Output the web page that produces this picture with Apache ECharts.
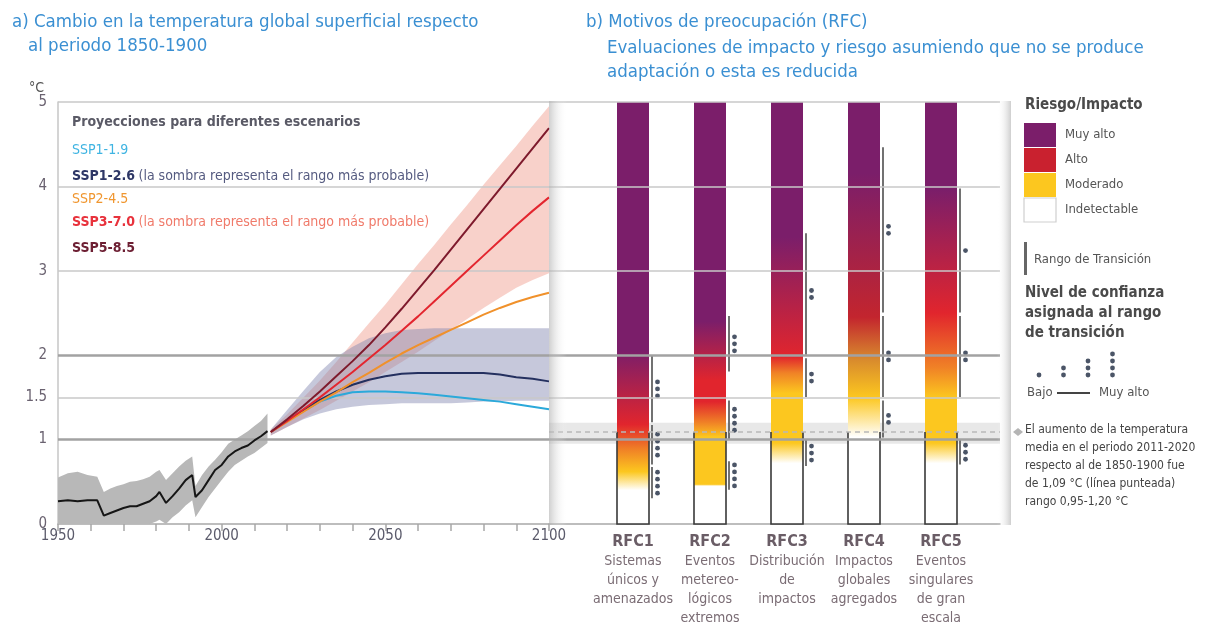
<!DOCTYPE html>
<html><head><meta charset="utf-8">
<script src="https://cdn.jsdelivr.net/npm/echarts/dist/echarts.min.js"></script>
<style>html,body{margin:0;padding:0;background:#fff}#c{width:1213px;height:625px}</style>
</head><body><div id="c"></div>
<script>
// ---------- DATA ----------
const yTickValues = [0, 1, 1.5, 2, 3, 4, 5];
const yMajorLines = [1, 2];
const yMinorLines = [1.5, 3, 4, 5];
const xTickLabels = [1950, 2000, 2050, 2100];

const histYears = [1950,1953,1956,1959,1962,1964,1966,1968,1970,1972,1974,1976,1978,1980,1981,1983,1985,1987,1989,1991,1992,1994,1996,1998,2000,2002,2004,2006,2008,2010,2012,2014];
const histMean  = [0.27,0.28,0.27,0.28,0.28,0.10,0.13,0.16,0.19,0.21,0.21,0.24,0.27,0.33,0.38,0.25,0.33,0.42,0.52,0.58,0.32,0.40,0.52,0.64,0.70,0.80,0.86,0.90,0.93,0.99,1.04,1.10];
const histHigh  = [0.55,0.60,0.62,0.58,0.56,0.38,0.42,0.45,0.47,0.50,0.51,0.53,0.56,0.62,0.64,0.52,0.60,0.68,0.75,0.80,0.45,0.58,0.68,0.76,0.85,0.95,1.00,1.05,1.10,1.16,1.22,1.31];
const histLow   = [0,0,0,0,0,0,0,0,0,0,0,0,0,0.03,0.05,0,0.08,0.14,0.22,0.28,0.08,0.20,0.32,0.42,0.52,0.62,0.70,0.75,0.80,0.84,0.90,0.96];

const projYears = [2015,2020,2025,2030,2035,2040,2045,2050,2055,2060,2065,2070,2075,2080,2085,2090,2095,2100];
const ssp119 = [1.09,1.22,1.34,1.45,1.52,1.56,1.57,1.57,1.56,1.55,1.53,1.51,1.49,1.47,1.45,1.42,1.39,1.36];
const ssp126 = [1.09,1.22,1.35,1.47,1.57,1.65,1.71,1.75,1.78,1.79,1.79,1.79,1.79,1.79,1.77,1.74,1.72,1.69];
const ssp245 = [1.09,1.21,1.33,1.45,1.56,1.68,1.79,1.91,2.02,2.12,2.21,2.30,2.39,2.48,2.56,2.63,2.69,2.74];
const ssp370 = [1.09,1.22,1.36,1.50,1.65,1.80,1.96,2.12,2.29,2.46,2.64,2.82,3.00,3.18,3.36,3.54,3.71,3.87];
const ssp585 = [1.09,1.24,1.40,1.57,1.75,1.93,2.12,2.33,2.55,2.78,3.01,3.25,3.49,3.73,3.97,4.21,4.45,4.69];
const ssp126Low  = [1.05,1.15,1.24,1.31,1.36,1.39,1.41,1.42,1.43,1.43,1.43,1.43,1.44,1.45,1.45,1.46,1.46,1.46];
const ssp126High = [1.12,1.35,1.58,1.80,1.98,2.10,2.20,2.26,2.30,2.31,2.32,2.32,2.32,2.32,2.32,2.32,2.32,2.32];
const ssp370Low  = [1.05,1.15,1.25,1.35,1.46,1.57,1.68,1.80,1.92,2.04,2.17,2.30,2.43,2.56,2.68,2.80,2.89,2.97];
const ssp370High = [1.12,1.30,1.50,1.70,1.92,2.15,2.38,2.60,2.84,3.08,3.31,3.55,3.78,4.02,4.25,4.48,4.72,4.95];

const rfcCategories = ['RFC1','RFC2','RFC3','RFC4','RFC5'];
const rfcDescriptions = [
  ['Sistemas','únicos y','amenazados'],
  ['Eventos','metereo-','lógicos','extremos'],
  ['Distribución','de','impactos'],
  ['Impactos','globales','agregados'],
  ['Eventos','singulares','de gran','escala']
];
// risk level colour stops per RFC: [°C, level]
const rfcRiskStops = [
  [[0.40,'w'],[0.62,'y'],[0.88,'o'],[1.18,'r'],[2.05,'p']],
  [[0.45,'w'],[0.47,'y'],[1.03,'y'],[1.20,'o'],[1.45,'r'],[1.70,'r'],[2.40,'p']],
  [[0.72,'w'],[0.96,'y'],[1.55,'y'],[1.79,'o'],[1.98,'r'],[3.40,'p']],
  [[1.03,'w'],[1.50,'y'],[1.95,'b'],[2.45,'d'],[4.15,'p']],
  [[0.72,'w'],[0.96,'y'],[1.50,'y'],[1.85,'o'],[2.50,'r'],[3.96,'p']]
];
// transition ranges: [rfc index, low °C, high °C, confidence dots]
const rfcTransitions = [
  [0,1.20,2.00,3],[0,0.70,1.18,4],[0,0.30,0.68,4],
  [1,1.80,2.47,3],[1,1.00,1.47,4],[1,0.40,0.75,4],
  [2,2.00,3.45,2],[2,1.50,1.97,2],[2,0.68,1.00,3],
  [3,2.50,4.47,2],[3,1.50,2.47,2],[3,1.02,1.47,2],
  [4,2.50,3.98,1],[4,1.50,2.47,2],[4,0.70,1.00,3]
];
const observedWarming = 1.09;
const observedRange = [0.95, 1.20];

const riskLegend = [['Muy alto','p'],['Alto','r2'],['Moderado','y'],['Indetectable','w']];
const confidenceDots = [1,2,3,4];

// ---------- STYLE ----------
const FONT = "'Liberation Sans Narrow','DejaVu Sans Condensed','Roboto Condensed',Roboto,sans-serif";
const TITLE = '#3a8fd2';
const riskColors = {w:'#ffffff', y:'#fcc71f', o:'#f08226', r:'#e1252d', r2:'#c9212f', p:'#7b1e6a', b:'#d88a2d', d:'#c3252e'};
const C = {s119:'#2ba9da', s126:'#24305f', s245:'#f0912b', s370:'#e3262f', s585:'#7e1a2c'};

const chart = echarts.init(document.getElementById('c'), null, {renderer:'canvas'});

function pairs(xs, ys){ return xs.map((x,i)=>[x, ys[i]]); }

function bandSeries(xs, lo, hi, color, z){
  return {type:'custom', xAxisIndex:0, yAxisIndex:0, silent:true, z:z, clip:true,
    data: xs.map((x,i)=>[x, lo[i], hi[i]]),
    encode:{x:0, y:[1,2]},
    renderItem:(params, api)=>{
      if(params.dataIndex !== 0) return null;
      const upper = xs.map((x,i)=>api.coord([x, hi[i]]));
      const lower = xs.map((x,i)=>api.coord([x, lo[i]])).reverse();
      return {type:'polygon', shape:{points:upper.concat(lower)}, style:{fill:color}};
    }};
}
function lineSeries(name, xs, ys, color, w){
  return {name, type:'line', xAxisIndex:0, yAxisIndex:0, data:pairs(xs,ys), symbol:'none', lineStyle:{color, width:w||2}, silent:true, z:5};
}
function gridMarkLines(){
  return [
    ...yMinorLines.map(v=>({yAxis:v, lineStyle:{color:'#c8c8c8', width:1.5, type:'solid'}})),
    ...yMajorLines.map(v=>({yAxis:v, lineStyle:{color:'#a2a2a2', width:2.5, type:'solid'}}))
  ];
}

function renderBar(params, api){
  const i = api.value(0);
  const bottom = api.coord([i, 0]);
  const top = api.coord([i, 5]);
  const obs = api.coord([i, observedWarming]);
  const w = 32;
  const x0 = bottom[0]-w/2, x1 = bottom[0]+w/2;
  const stops = rfcRiskStops[i].map(s=>({offset:s[0]/5, color:riskColors[s[1]]}));
  return {type:'group', children:[
    {type:'rect', shape:{x:x0, y:top[1], width:w, height:bottom[1]-top[1]}, style:{fill:new echarts.graphic.LinearGradient(0,1,0,0,stops)}},
    {type:'polyline', shape:{points:[[x0,obs[1]],[x0,bottom[1]],[x1,bottom[1]],[x1,obs[1]]]}, style:{stroke:'#3a3a3a', lineWidth:1.6, fill:null}}
  ]};
}
function renderTransition(params, api){
  const i = api.value(0), lo = api.value(1), hi = api.value(2), n = api.value(3);
  const pLo = api.coord([i, lo]), pHi = api.coord([i, hi]);
  const x = pLo[0] + 19;
  const children = [{type:'line', shape:{x1:x, y1:pHi[1]+0.5, x2:x, y2:pLo[1]-0.5}, style:{stroke:'#626262', lineWidth:1.8}}];
  const mid = (pLo[1]+pHi[1])/2, gap = 7;
  for(let k=0;k<n;k++){
    children.push({type:'circle', shape:{cx:x+5.5, cy:mid+(k-(n-1)/2)*gap, r:2.4}, style:{fill:'#4b5567'}});
  }
  return {type:'group', children};
}

const option = {
  animation:false,
  textStyle:{fontFamily:FONT},
  grid:[
    {left:58, top:102, width:491, height:422, outerBoundsMode:'none', containLabel:false},
    {left:549, top:102, width:451, height:422, outerBoundsMode:'none', containLabel:false},
    {left:594.5, top:102, width:385, height:422, outerBoundsMode:'none', containLabel:false}
  ],
  xAxis:[
    {gridIndex:0, type:'value', min:1950, max:2100, interval:10,
      axisLine:{lineStyle:{color:'#a8a8a8', width:1.5}},
      axisTick:{length:7, lineStyle:{color:'#a8a8a8', width:1.5}},
      axisLabel:{formatter:v=>xTickLabels.indexOf(v)>=0?String(v):'', color:'#5b5b6b', fontSize:15, margin:5, fontFamily:FONT},
      splitLine:{show:false}},
    {gridIndex:1, type:'value', min:0, max:1,
      axisLine:{lineStyle:{color:'#a8a8a8', width:1.5}}, axisTick:{show:false}, axisLabel:{show:false}, splitLine:{show:false}},
    {gridIndex:2, type:'category', data:rfcCategories, axisLine:{show:false}, axisTick:{show:false},
      axisLabel:{interval:0, margin:8, fontFamily:FONT,
        formatter:(v,i)=>'{t|'+v+'}\n'+rfcDescriptions[i].map(s=>'{s|'+s+'}').join('\n'),
        rich:{t:{fontSize:16, color:'#6a5d66', fontWeight:'bold', lineHeight:20, fontFamily:FONT},
              s:{fontSize:14, color:'#7a6c74', lineHeight:19, fontFamily:FONT}}}}
  ],
  yAxis:[
    {gridIndex:0, type:'value', min:0, max:5, interval:0.5,
      axisLine:{show:true, lineStyle:{color:'#c6c6c6', width:1.5}}, axisTick:{show:false},
      axisLabel:{formatter:v=>yTickValues.indexOf(v)>=0?String(v):'', color:'#6a6270', fontSize:15, margin:11, fontFamily:FONT},
      splitLine:{show:false}},
    {gridIndex:1, type:'value', min:0, max:5, show:false},
    {gridIndex:2, type:'value', min:0, max:5, show:false}
  ],
  series:[
    {type:'line', xAxisIndex:0, yAxisIndex:0, data:[], silent:true, z:1,
      markLine:{silent:true, symbol:'none', label:{show:false}, animation:false, data:gridMarkLines()}},
    {type:'line', xAxisIndex:1, yAxisIndex:1, data:[], silent:true, z:1,
      markArea:{silent:true, itemStyle:{color:'rgba(205,205,205,0.45)'}, data:[[{yAxis:observedRange[0]},{yAxis:observedRange[1]}]]},
      markLine:{silent:true, symbol:'none', label:{show:false}, animation:false,
        data:[...gridMarkLines(), {yAxis:observedWarming, lineStyle:{color:'#b8b8b8', width:1.5, type:[5,4]}}]}},
    bandSeries(histYears, histLow, histHigh, '#b8b8b8', 2),
    bandSeries(projYears, ssp370Low, ssp370High, 'rgba(236,135,115,0.38)', 2),
    bandSeries(projYears, ssp126Low, ssp126High, 'rgba(130,136,176,0.46)', 2),
    lineSeries('hist', histYears, histMean, '#161616', 2),
    lineSeries('SSP1-1.9', projYears, ssp119, C.s119),
    lineSeries('SSP1-2.6', projYears, ssp126, C.s126),
    lineSeries('SSP2-4.5', projYears, ssp245, C.s245),
    lineSeries('SSP3-7.0', projYears, ssp370, C.s370),
    lineSeries('SSP5-8.5', projYears, ssp585, C.s585),
    {type:'custom', xAxisIndex:2, yAxisIndex:2, renderItem:renderBar, clip:false, silent:true, z:3,
      encode:{x:0, y:1}, data:rfcCategories.map((c,i)=>[i,5])},
    {type:'custom', xAxisIndex:2, yAxisIndex:2, renderItem:renderTransition, clip:false, silent:true, z:4,
      encode:{x:0, y:[1,2]}, data:rfcTransitions}
  ]
};
chart.setOption(option);

// ---------- TEXT / DECORATION ----------
function txt(x, y, text, size, color, weight, align){
  return {type:'text', x, y, silent:true, z:100, style:{text, fill:color, fontSize:size, fontWeight:weight||'normal', fontFamily:FONT, verticalAlign:'middle', align:align||'left'}};
}
function rich(x, y, text, richDef){
  return {type:'text', x, y, silent:true, z:100, style:{text, fontFamily:FONT, verticalAlign:'middle', align:'left', rich:richDef}};
}
const obsY = chart.convertToPixel({gridIndex:1}, [1, observedWarming])[1];
const g = [];
g.push({type:'rect', silent:true, z:50, shape:{x:549, y:101, width:18, height:424},
  style:{fill:new echarts.graphic.LinearGradient(0,0,1,0,[{offset:0,color:'rgba(175,175,175,0.6)'},{offset:1,color:'rgba(255,255,255,0)'}])}});
g.push({type:'rect', silent:true, z:50, shape:{x:997, y:101, width:14, height:424},
  style:{fill:new echarts.graphic.LinearGradient(0,0,1,0,[{offset:0,color:'rgba(255,255,255,0)'},{offset:1,color:'rgba(175,175,175,0.6)'}])}});
g.push(txt(12, 22, 'a) Cambio en la temperatura global superficial respecto', 18.5, TITLE));
g.push(txt(28, 46, 'al periodo 1850-1900', 18.5, TITLE));
g.push(txt(586, 22, 'b) Motivos de preocupación (RFC)', 18.5, TITLE));
g.push(txt(607, 48, 'Evaluaciones de impacto y riesgo asumiendo que no se produce', 18.5, TITLE));
g.push(txt(607, 72, 'adaptación o esta es reducida', 18.5, TITLE));
g.push(txt(29, 88, '°C', 14, '#555'));
g.push(txt(72, 122, 'Proyecciones para diferentes escenarios', 14, '#5a5a66', 'bold'));
g.push(txt(72, 150, 'SSP1-1.9', 14, '#3fb4e2'));
g.push(rich(72, 176, '{a|SSP1-2.6} {b|(la sombra representa el rango más probable)}',
  {a:{fill:'#2e3766', fontSize:14, fontWeight:'bold', fontFamily:FONT}, b:{fill:'#555b80', fontSize:14, fontFamily:FONT}}));
g.push(txt(72, 199, 'SSP2-4.5', 14, '#f0962f'));
g.push(rich(72, 222, '{a|SSP3-7.0} {b|(la sombra representa el rango más probable)}',
  {a:{fill:'#e8323c', fontSize:14, fontWeight:'bold', fontFamily:FONT}, b:{fill:'#f07a6a', fontSize:14, fontFamily:FONT}}));
g.push(txt(72, 248, 'SSP5-8.5', 14, '#6d1f33', 'bold'));
g.push(txt(1025, 105, 'Riesgo/Impacto', 15, '#4a4a4a', 'bold'));
riskLegend.forEach((r,k)=>{
  const y0 = 123 + k*25;
  g.push({type:'rect', silent:true, z:100, shape:{x:1024, y:y0, width:32, height:24},
    style:{fill:riskColors[r[1]], stroke:r[1]==='w'?'#cfcfcf':null, lineWidth:1.2}});
  g.push(txt(1065, y0+12, r[0], 13, '#555'));
});
g.push({type:'rect', silent:true, z:100, shape:{x:1024, y:242, width:3, height:33}, style:{fill:'#666'}});
g.push(txt(1034, 260, 'Rango de Transición', 13, '#555'));
g.push(txt(1025, 293, 'Nivel de confianza', 15, '#4a4a4a', 'bold'));
g.push(txt(1025, 313, 'asignada al rango', 15, '#4a4a4a', 'bold'));
g.push(txt(1025, 333, 'de transición', 15, '#4a4a4a', 'bold'));
confidenceDots.forEach((n,k)=>{
  const cx = 1039 + k*24.5;
  for(let d=0; d<n; d++) g.push({type:'circle', silent:true, z:100, shape:{cx, cy:375-d*7, r:2.4}, style:{fill:'#4b5567'}});
});
g.push(txt(1027, 393, 'Bajo', 13, '#555'));
g.push({type:'line', silent:true, z:100, shape:{x1:1057, y1:393, x2:1090, y2:393}, style:{stroke:'#444', lineWidth:2}});
g.push(txt(1099, 393, 'Muy alto', 13, '#555'));
g.push({type:'polygon', silent:true, z:100, shape:{points:[[1018,obsY-4],[1023,obsY],[1018,obsY+4],[1013,obsY]]}, style:{fill:'#b5b5b5'}});
['El aumento de la temperatura','media en el periodo 2011-2020','respecto al de 1850-1900 fue','de 1,09 °C (línea punteada)','rango 0,95-1,20 °C']
  .forEach((s,k)=>g.push(txt(1025, 430 + k*18, s, 12, '#444')));
chart.setOption({graphic:g});
</script></body></html>
